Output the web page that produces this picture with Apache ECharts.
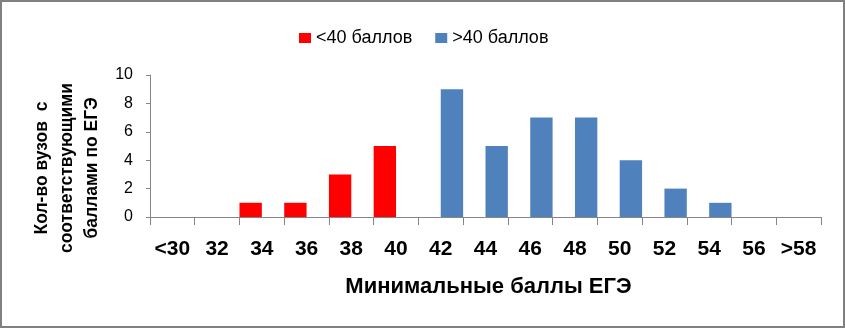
<!DOCTYPE html>
<html>
<head>
<meta charset="utf-8">
<script src="https://cdn.jsdelivr.net/npm/echarts@6/dist/echarts.min.js"></script>
<style>
  html, body { margin: 0; padding: 0; background: #fff; }
  #wrap { position: relative; width: 845px; height: 328px; }
  #chart { position: absolute; left: 0; top: 0; width: 845px; height: 328px; }
  #frame { position: absolute; left: 0; top: 0; width: 845px; height: 328px; box-sizing: border-box; border: 2px solid #808080; pointer-events: none; }
</style>
</head>
<body>
<div id="wrap">
  <div id="chart"></div>
  <div id="frame"></div>
</div>
<script>
const categories = ['<30', '32', '34', '36', '38', '40', '42', '44', '46', '48', '50', '52', '54', '56', '>58'];
const seriesNames = ['<40 баллов', '>40 баллов'];
const below40 = [0, 0, 1, 1, 3, 5, 0, 0, 0, 0, 0, 0, 0, 0, 0];
const above40 = [0, 0, 0, 0, 0, 0, 9, 5, 7, 7, 4, 2, 1, 0, 0];
const yTicks = { min: 0, max: 10, interval: 2 };
const xTitle = 'Минимальные баллы ЕГЭ';
const yTitle = 'Кол-во вузов  с\nсоответствующими\nбаллами по ЕГЭ';

const FONT = 'Liberation Sans, Arial, sans-serif';
const chart = echarts.init(document.getElementById('chart'), null, { renderer: 'canvas' });
chart.setOption({
  animation: false,
  backgroundColor: '#ffffff',
  legend: {
    left: 294,
    top: 24,
    itemWidth: 12,
    itemHeight: 10,
    itemGap: 23,
    icon: 'rect',
    textStyle: { fontFamily: FONT, fontSize: 18, color: '#000' },
    data: seriesNames
  },
  grid: { left: 150, right: 24, top: 75, bottom: 111, containLabel: false },
  xAxis: {
    type: 'category',
    data: categories,
    boundaryGap: true,
    axisLine: { lineStyle: { color: '#868686', width: 1 } },
    axisTick: { show: true, length: 8, lineStyle: { color: '#868686' } },
    axisLabel: { margin: 22, fontFamily: FONT, fontSize: 21, fontWeight: 'bold', color: '#000', interval: 0 },
    name: xTitle,
    nameLocation: 'middle',
    nameGap: 59,
    nameTextStyle: { fontFamily: FONT, fontSize: 22, fontWeight: 'bold', color: '#000', padding: [0, 0, 0, 6] }
  },
  yAxis: {
    type: 'value',
    min: yTicks.min,
    max: yTicks.max,
    interval: yTicks.interval,
    splitLine: { show: false },
    axisLine: { show: true, lineStyle: { color: '#868686', width: 1 } },
    axisTick: { show: true, length: 4, lineStyle: { color: '#868686' } },
    axisLabel: { margin: 17, fontFamily: FONT, fontSize: 16, color: '#000' },
    name: yTitle,
    nameLocation: 'middle',
    nameRotate: 90,
    nameGap: 45,
    nameTextStyle: { fontFamily: FONT, fontSize: 17.5, fontWeight: 'bold', color: '#000', lineHeight: 25, align: 'center', padding: [0, 44, 0, 0] }
  },
  series: [
    { name: seriesNames[0], type: 'bar', data: below40, barGap: '0%', barCategoryGap: '0%', itemStyle: { color: '#FF0000' } },
    { name: seriesNames[1], type: 'bar', data: above40, barGap: '0%', barCategoryGap: '0%', itemStyle: { color: '#4F81BD' } }
  ]
});
</script>
</body>
</html>
